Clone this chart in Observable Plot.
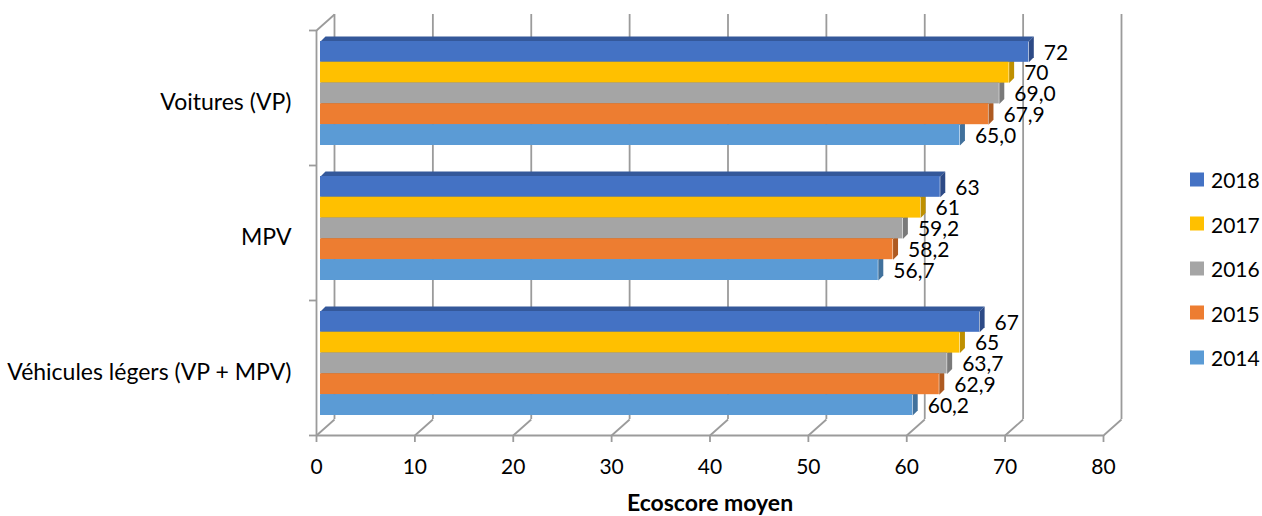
<!DOCTYPE html>
<html>
<head>
<meta charset="utf-8">
<script src="https://cdn.jsdelivr.net/npm/d3@7"></script>
<script src="https://cdn.jsdelivr.net/npm/@observablehq/plot@0.6"></script>
<style>
  body { margin: 0; background: #fff; }
  #chart { position: relative; width: 1262px; height: 516px; font-family: Lato, sans-serif; overflow: hidden; }
  #legend { position: absolute; left: 1190px; top: 0; }
  .item { position: absolute; left: 0; display: flex; align-items: center; white-space: nowrap; font-size: 21px; color: #000; transform: translateY(-50%); }
  .item span.sw { width: 14px; height: 14px; margin-right: 7px; display: inline-block; }
</style>
</head>
<body>
<div id="chart"><div id="legend"></div></div>
<script>
// Ecoscore moyen par type de véhicule et par année
const categories = ["Voitures (VP)", "MPV", "Véhicules légers (VP + MPV)"];
const years = ["2018", "2017", "2016", "2015", "2014"];
const score2018 = [72, 63, 67];
const score2017 = [70, 61, 65];
const score2016 = [69.0, 59.2, 63.7];
const score2015 = [67.9, 58.2, 62.9];
const score2014 = [65.0, 56.7, 60.2];
const xTicks = [0, 10, 20, 30, 40, 50, 60, 70, 80];

const seriesValues = [score2018, score2017, score2016, score2015, score2014];
const labelDecimals = [0, 0, 1, 1, 1];

// Face colours: front, top, side (end cap)
const frontColors = ["#4472C4", "#FFC000", "#A5A5A5", "#ED7D31", "#5B9BD5"];
const topColors   = ["#34589A", "#C89600", "#818181", "#B9601F", "#4779A8"];
const sideColors  = ["#2D4A86", "#BF9000", "#7A7A7A", "#AE5A21", "#41719C"];

// Layout
const W = 1262, H = 516;
const mL = 316, mR = 159, mT = 30, mB = 81;
const pxX = 80 / (W - mL - mR);        // data units per pixel, x
const pxY = 3 / (H - mT - mB);         // data units per pixel, y (category bands)
const wallDX = 18, wallDY = 16;        // depth of the back wall, px
const barDX = 4, barDY = 4;            // bars sit slightly behind the front plane
const barDepth = 5;                    // thickness of each 3D bar, px
const barH = 20.8, groupPad = 15;      // bar height and top padding inside a band, px
const gridColor = "#9b9b9b";

const fmt = (v, d) => v.toFixed(d).replace(".", ",");

const rows = [];
categories.forEach((cat, i) => {
  years.forEach((yr, k) => {
    const v = seriesValues[k][i];
    const y1 = i + (groupPad + k * barH) * pxY;
    rows.push({
      category: cat, year: yr, value: v, k,
      y1, y2: y1 + barH * pxY, yc: y1 + barH * pxY / 2,
      label: fmt(v, labelDecimals[k]),
      front: frontColors[k], top: topColors[k], side: sideColors[k]
    });
  });
});

// Top and end faces as polygons (drawn before the fronts so upper bars hide them)
const tx = barDepth * pxX, ty = barDepth * pxY;
const faces = [];
[...rows].reverse().forEach((r, j) => {
  const topId = "t" + j, sideId = "s" + j;
  [[0, r.y1], [tx, r.y1 - ty], [r.value + tx, r.y1 - ty], [r.value, r.y1]]
    .forEach(([x, y]) => faces.push({id: topId, x, y, color: r.top}));
  [[r.value, r.y1], [r.value + tx, r.y1 - ty], [r.value + tx, r.y2 - ty], [r.value, r.y2]]
    .forEach(([x, y]) => faces.push({id: sideId, x, y, color: r.side}));
});

const chart = Plot.plot({
  width: W, height: H,
  marginLeft: mL, marginRight: mR, marginTop: mT, marginBottom: mB,
  style: {fontFamily: "Lato, sans-serif", fontSize: "21px", color: "#000", background: "#fff"},
  x: {domain: [0, 80], label: null},
  y: {domain: [3, 0], label: null},
  color: {type: "identity"},
  marks: [
    // back wall gridlines
    Plot.ruleX(xTicks, {x: d => d, y1: 0, y2: 3, dx: wallDX, dy: -wallDY, stroke: gridColor, strokeWidth: 1.8}),
    // floor diagonals
    Plot.link(xTicks, {x1: d => d, y1: 3, x2: d => d + wallDX * pxX, y2: 3 - wallDY * pxY, stroke: gridColor, strokeWidth: 1.8}),
    // side wall top edge
    Plot.link([0], {x1: 0, y1: 0, x2: wallDX * pxX, y2: -wallDY * pxY, stroke: gridColor, strokeWidth: 1.8}),
    // front axes
    Plot.ruleX([0], {y1: 0, y2: 3.005, stroke: gridColor, strokeWidth: 1.8}),
    Plot.ruleY([3], {x1: 0, x2: 80, stroke: gridColor, strokeWidth: 1.8}),
    Plot.axisX({ticks: xTicks, tickSize: 7, tickPadding: 17, stroke: gridColor, strokeWidth: 1.8, fill: "#000", fontSize: 21}),
    Plot.axisY({ticks: [0, 1, 2, 3], tickSize: 7, tickFormat: () => "", stroke: gridColor, strokeWidth: 1.8}),
    Plot.axisY({ticks: [0.5, 1.5, 2.5], tickSize: 0, tickPadding: 25, dy: 5,
      tickFormat: d => categories[Math.floor(d)], fill: "#000", fontSize: 23}),
    // bars: hidden faces first, then fronts
    Plot.line(faces, {x: "x", y: "y", z: "id", fill: "color", stroke: "none", dx: barDX, dy: -barDY}),
    Plot.rect(rows, {x1: 0, x2: "value", y1: "y1", y2: "y2", fill: "front", dx: barDX, dy: -barDY}),
    // value labels
    Plot.text(rows, {x: "value", y: "yc", text: "label", textAnchor: "start",
      dx: barDX + barDepth + 10, dy: -barDY + 1, fontSize: 21, fill: "#000"}),
    // axis title
    Plot.text(["Ecoscore moyen"], {text: d => d, frameAnchor: "bottom", dy: 75,
      fontWeight: "bold", fontSize: 23, fill: "#000"})
  ]
});

const root = document.getElementById("chart");
root.insertBefore(chart, root.firstChild);

// legend
const legend = document.getElementById("legend");
const legendTop = 179, legendStep = 44.5;
years.forEach((yr, k) => {
  const item = document.createElement("div");
  item.className = "item";
  item.style.top = (legendTop + k * legendStep) + "px";
  item.innerHTML = `<span class="sw" style="background:${frontColors[k]}"></span>${yr}`;
  legend.appendChild(item);
});
</script>
</body>
</html>
